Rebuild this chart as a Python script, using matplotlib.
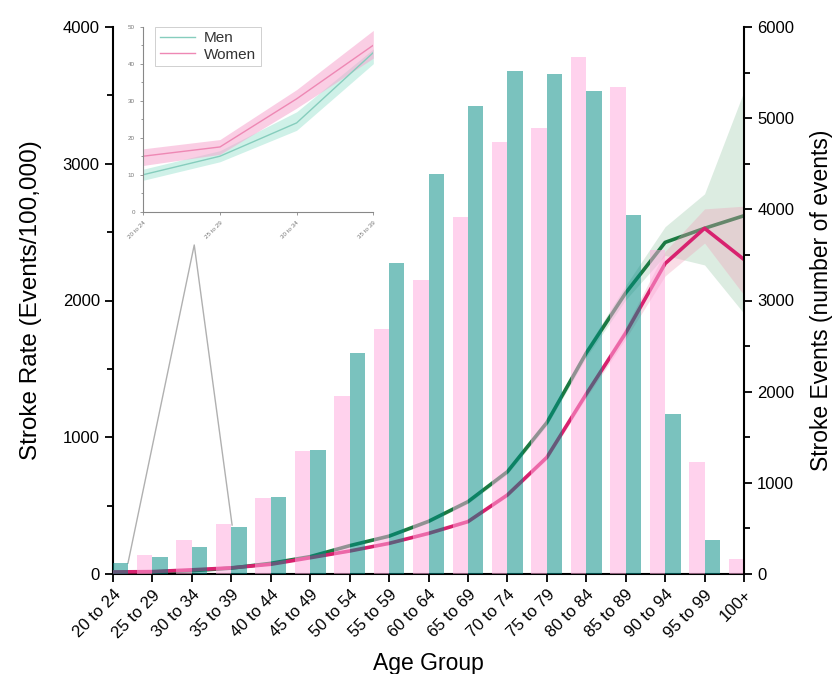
import matplotlib
matplotlib.use("Agg")
import matplotlib.pyplot as plt
from matplotlib.ticker import MultipleLocator
import numpy as np

plt.rcParams['font.family'] = ['Liberation Sans', 'DejaVu Sans']

# ---------------- data ----------------
age_groups = ["20 to 24", "25 to 29", "30 to 34", "35 to 39", "40 to 44", "45 to 49",
              "50 to 54", "55 to 59", "60 to 64", "65 to 69", "70 to 74", "75 to 79",
              "80 to 84", "85 to 89", "90 to 94", "95 to 99", "100+"]

# stroke events (number of events), right axis
events_women = [100, 208, 373, 548, 830, 1352, 1956, 2684, 3225, 3919, 4735, 4896,
                5668, 5338, 3554, 1232, 165]
events_men = [121, 183, 300, 519, 848, 1360, 2421, 3415, 4384, 5133, 5521, 5485,
              5298, 3938, 1752, 373, 50]

# stroke rate (events / 100,000), left axis
rate_men = [10, 15, 24, 43, 78, 127, 207, 277, 385, 529, 748, 1107,
            1616, 2055, 2425, 2528, 2620]
rate_men_lo = [8.5, 13.5, 22, 40, 74, 121, 200, 268, 374, 515, 730, 1085,
               1585, 2005, 2330, 2260, 1905]
rate_men_hi = [11.5, 16.5, 27, 44, 82, 133, 214, 286, 396, 543, 766, 1130,
               1650, 2110, 2540, 2780, 3530]

rate_women = [15, 17.5, 30.5, 45, 71, 119, 168, 224, 297, 383, 578, 853,
              1316, 1762, 2270, 2528, 2300]
rate_women_lo = [12.5, 15.5, 28, 41.5, 67, 114, 162, 217, 289, 373, 565, 836,
                 1290, 1720, 2180, 2420, 2040]
rate_women_hi = [17, 19.5, 33, 49, 75, 124, 174, 231, 305, 393, 591, 870,
                 1342, 1805, 2360, 2670, 2690]

# zoom guide (data coords on the rate axis)
guide_x = [0.38, 2.06, 3.02]
guide_y = [80, 2406, 358]

# ---------------- colours ----------------
teal = '#008a84'
pink = '#ffaade'
green_line = '#1b7a42'
pink_line = '#d8226f'

x = np.arange(len(age_groups))

fig = plt.figure(figsize=(8.38, 6.74), dpi=100)
ax = fig.add_axes([113/838, 1-574/674, 631/838, 547/674])

# rate lines + CI (left axis, drawn beneath the bars)
ax.fill_between(x, rate_men_lo, rate_men_hi, color='#9cc9aa', alpha=0.35, lw=0, zorder=1)
ax.plot(x, rate_men, color=green_line, lw=2.6, zorder=2)
ax.fill_between(x, rate_women_lo, rate_women_hi, color='#f0a0b8', alpha=0.35, lw=0, zorder=3)
ax.plot(x, rate_women, color=pink_line, lw=2.6, zorder=4)
ax.plot(guide_x, guide_y, color='#b0b0b0', lw=1.0, zorder=5)

ax.set_xlim(0, len(age_groups)-1)
ax.set_ylim(0, 4000)
ax.yaxis.set_major_locator(MultipleLocator(1000))
ax.yaxis.set_minor_locator(MultipleLocator(500))
ax.set_xticks(x)
ax.set_xticklabels(age_groups, rotation=45, ha='right', rotation_mode='anchor', fontsize=12)
ax.tick_params(axis='both', which='major', direction='out', length=6, width=1.3, labelsize=12)
ax.tick_params(axis='y', which='minor', direction='out', length=4, width=1.3)
ax.set_ylabel("Stroke Rate (Events/100,000)", fontsize=17.5, labelpad=15)
ax.set_xlabel("Age Group", fontsize=16.5, labelpad=8)
for s in ['left', 'bottom']:
    ax.spines[s].set_linewidth(1.5)
ax.spines['top'].set_visible(False)
ax.spines['right'].set_visible(False)

# events bars (right axis, drawn on top with transparency)
ax2 = ax.twinx()
w = 0.39
ax2.bar(x - w/2, events_women, width=w, color=pink, alpha=0.52, lw=0, zorder=1)
ax2.bar(x + w/2, events_men, width=w, color=teal, alpha=0.52, lw=0, zorder=1)
ax2.set_ylim(0, 6000)
ax2.set_xlim(0, len(age_groups)-1)
ax2.yaxis.set_major_locator(MultipleLocator(1000))
ax2.yaxis.set_minor_locator(MultipleLocator(500))
ax2.tick_params(axis='y', which='major', direction='out', length=6, width=1.3, labelsize=12)
ax2.tick_params(axis='y', which='minor', direction='out', length=4, width=1.3)
ax2.set_ylabel("Stroke Events (number of events)", fontsize=16.5, labelpad=11)
ax2.spines['right'].set_linewidth(1.5)
ax2.spines['top'].set_visible(False)
ax2.spines['left'].set_visible(False)
ax2.spines['bottom'].set_visible(False)

# ---------------- inset ----------------
n_in = 4
xi = np.arange(n_in)
axi = fig.add_axes([143.3/838, 1-211.7/674, 230/838, 185/674])
axi.fill_between(xi, rate_men_lo[:n_in], rate_men_hi[:n_in], color='#a8e6d6', alpha=0.55, lw=0)
axi.fill_between(xi, rate_women_lo[:n_in], rate_women_hi[:n_in], color='#f7a6cf', alpha=0.55, lw=0)
axi.plot(xi, rate_men[:n_in], color='#86cdbd', lw=1.0, label='Men')
axi.plot(xi, rate_women[:n_in], color='#ee88b4', lw=1.0, label='Women')
axi.set_xlim(0, n_in-1)
axi.set_ylim(0, 50)
axi.yaxis.set_major_locator(MultipleLocator(10))
axi.yaxis.set_minor_locator(MultipleLocator(5))
axi.set_xticks(xi)
axi.set_xticklabels(age_groups[:n_in], rotation=45, ha='right', rotation_mode='anchor',
                    fontsize=4.5, color='#666666')
axi.tick_params(axis='both', which='both', colors='#888888', labelsize=4.5, width=0.6,
                length=2.5, labelcolor='#777777')
axi.tick_params(axis='y', which='minor', length=1.5)
for s in ['top', 'right']:
    axi.spines[s].set_visible(False)
for s in ['left', 'bottom']:
    axi.spines[s].set_color('#888888')
    axi.spines[s].set_linewidth(0.8)
axi.patch.set_alpha(0)
leg = axi.legend(loc='upper left', bbox_to_anchor=((155 - 143.3) / 230, 1.0), fontsize=11,
                 frameon=True, fancybox=False, borderpad=0.3, handlelength=2.3,
                 handletextpad=0.6, labelspacing=0.15, borderaxespad=0.0)
leg.get_frame().set_edgecolor('#bbbbbb')
leg.get_frame().set_linewidth(0.6)
for t in leg.get_texts():
    t.set_color('#333333')

fig.savefig("out.png", dpi=100)
